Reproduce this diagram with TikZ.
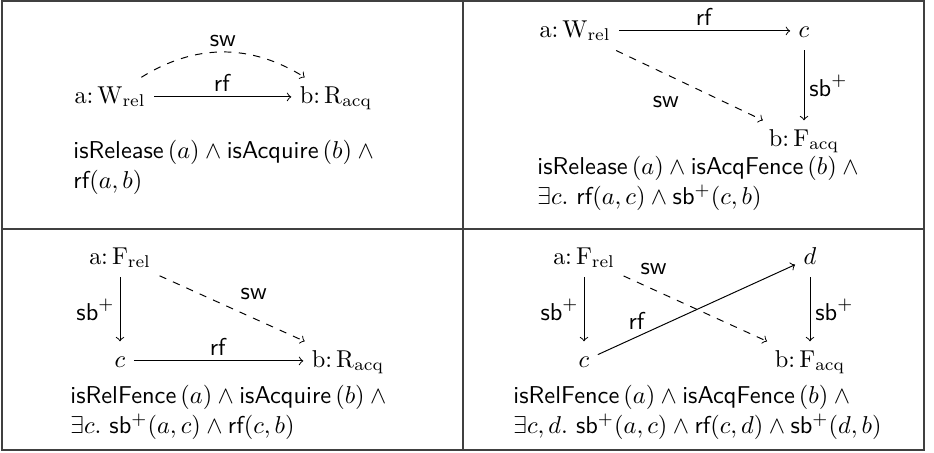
\documentclass[tikz,border=0pt]{standalone}
\usetikzlibrary{calc}
\begin{document}
\begin{tikzpicture}[x=0.41pt,y=-0.41pt,
  cell/.style={anchor=base, inner sep=3.33pt, text height=7pt, text depth=2pt},
  txt/.style={anchor=base west, inner sep=0pt, font=\sffamily},
  arr/.style={->, line width=0.4pt},
  swarr/.style={->, dashed, line width=0.4pt},
  lab/.style={inner sep=2pt},
  frame/.style={line width=0.8pt, draw=black!75}]
\useasboundingbox (0,0) rectangle (934,452);
\fill[white] (0,0) rectangle (934,452);
% table frame
\draw[frame] (2,1) rectangle (924,450);
\draw[frame] (463,1) -- (463,450);
\draw[frame] (2,229) -- (924,229);

% Panel 1
\node[cell] (p1a) at (110,103) {$\mathrm{a\colon W_{rel}}$};
\node[cell] (p1b) at (336,103) {$\mathrm{b\colon R_{acq}}$};
\draw[arr] (p1a) -- node[lab, above] {$\mathsf{rf}$} (p1b);
\draw[swarr] (p1a) to[bend left=32] node[lab, above] {$\mathsf{sw}$} (p1b);
\node[txt] (t1a) at (73,158) {isRelease$\,(a) \wedge{}$isAcquire$\,(b) \wedge{}$};
\node[txt] (t1b) at (73,188) {rf$(a,b)$};

% Panel 2
\node[cell] (p2a) at (575,37) {$\mathrm{a\colon W_{rel}}$};
\node[cell] (p2c) at (804,37) {$c$};
\node[cell] (p2b) at (804,146) {$\mathrm{b\colon F_{acq}}$};
\draw[arr] (p2a) -- node[lab, above] {$\mathsf{rf}$} (p2c);
\draw[arr] (p2c) -- node[lab, right] {$\mathsf{sb}^+$} (p2b);
\draw[swarr] (p2a) -- node[lab, pos=0.34, yshift=-11.5pt] {$\mathsf{sw}$} (p2b);
\node[txt] (t2a) at (537,174) {isRelease$\,(a) \wedge{}$isAcqFence$\,(b) \wedge{}$};
\node[txt] (t2b) at (537,204) {$\exists c.$ rf$(a,c) \wedge{}$sb$^+(c,b)$};

% Panel 3
\node[cell] (p3a) at (120,264) {$\mathrm{a\colon F_{rel}}$};
\node[cell] (p3c) at (120,367) {$c$};
\node[cell] (p3b) at (348,367) {$\mathrm{b\colon R_{acq}}$};
\draw[arr] (p3a) -- node[lab, left] {$\mathsf{sb}^+$} (p3c);
\draw[arr] (p3c) -- node[lab, above] {$\mathsf{rf}$} (p3b);
\draw[swarr] (p3a) -- node[lab, pos=0.65, yshift=10pt] {$\mathsf{sw}$} (p3b);
\node[txt] (t3a) at (70,403) {isRelFence$\,(a) \wedge{}$isAcquire$\,(b) \wedge{}$};
\node[txt] (t3b) at (70,433) {$\exists c.$ sb$^+(a,c) \wedge{}$rf$(c,b)$};

% Panel 4
\node[cell] (p4a) at (584,264) {$\mathrm{a\colon F_{rel}}$};
\node[cell] (p4d) at (810,264) {$d$};
\node[cell] (p4c) at (584,367) {$c$};
\node[cell] (p4b) at (810,367) {$\mathrm{b\colon F_{acq}}$};
\draw[arr] (p4a) -- node[lab, left] {$\mathsf{sb}^+$} (p4c);
\draw[arr] (p4d) -- node[lab, right] {$\mathsf{sb}^+$} (p4b);
\draw[arr] (p4c) -- node[lab, pos=0.2, yshift=6.2pt] {$\mathsf{rf}$} (p4d);
\draw[swarr] (p4a) -- node[lab, pos=0.21, yshift=8.6pt] {$\mathsf{sw}$} (p4b);
\node[txt] (t4a) at (513,403) {isRelFence$\,(a) \wedge{}$isAcqFence$\,(b) \wedge{}$};
\node[txt] (t4b) at (513,433) {$\exists c, d.$ sb$^+(a,c) \wedge{}$rf$(c,d) \wedge{}$sb$^+(d,b)$};
\end{tikzpicture}
\end{document}
